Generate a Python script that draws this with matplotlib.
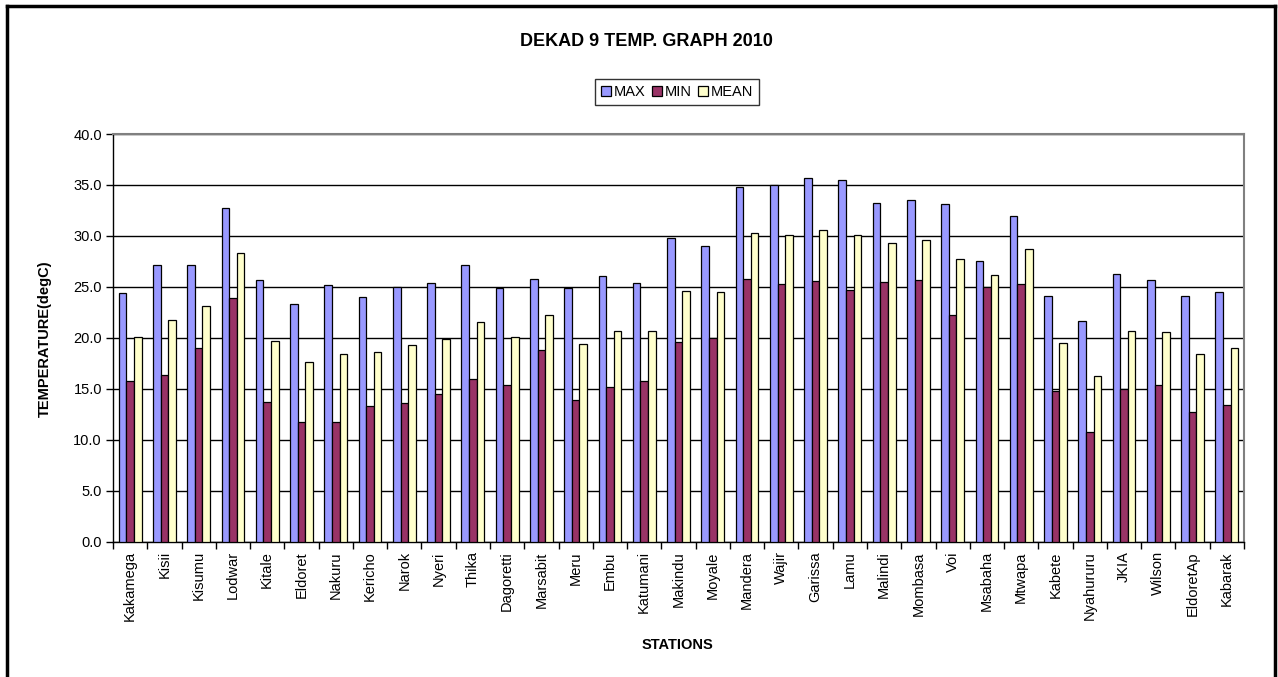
import numpy as np
import matplotlib.pyplot as plt
from matplotlib.lines import Line2D

plt.rcParams['font.family'] = ['Liberation Sans', 'DejaVu Sans']

stations = ['Kakamega', 'Kisii', 'Kisumu', 'Lodwar', 'Kitale', 'Eldoret', 'Nakuru',
            'Kericho', 'Narok', 'Nyeri', 'Thika', 'Dagoretti', 'Marsabit', 'Meru',
            'Embu', 'Katumani', 'Makindu', 'Moyale', 'Mandera', 'Wajir', 'Garissa',
            'Lamu', 'Malindi', 'Mombasa', 'Voi', 'Msabaha', 'Mtwapa', 'Kabete',
            'Nyahururu', 'JKIA', 'Wilson', 'EldoretAp', 'Kabarak']
t_max = [24.4, 27.1, 27.1, 32.7, 25.7, 23.3, 25.2, 24.0, 25.0, 25.4, 27.1, 24.9, 25.8,
         24.9, 26.1, 25.4, 29.8, 29.0, 34.8, 35.0, 35.7, 35.5, 33.2, 33.5, 33.1, 27.5,
         32.0, 24.1, 21.6, 26.3, 25.7, 24.1, 24.5]
t_min = [15.8, 16.3, 19.0, 23.9, 13.7, 11.7, 11.7, 13.3, 13.6, 14.5, 16.0, 15.4, 18.8,
         13.9, 15.2, 15.8, 19.6, 20.0, 25.8, 25.3, 25.6, 24.7, 25.5, 25.7, 22.2, 25.0,
         25.3, 14.8, 10.7, 15.0, 15.4, 12.7, 13.4]
t_mean = [20.1, 21.7, 23.1, 28.3, 19.7, 17.6, 18.4, 18.6, 19.3, 19.9, 21.5, 20.1, 22.2,
          19.4, 20.7, 20.7, 24.6, 24.5, 30.3, 30.1, 30.6, 30.1, 29.3, 29.6, 27.7, 26.2,
          28.7, 19.5, 16.2, 20.7, 20.6, 18.4, 19.0]

W, H = 1278, 677
fig = plt.figure(figsize=(W / 100, H / 100), dpi=100)
ax = fig.add_axes([113 / W, 1 - 541.5 / H, (1244 - 113) / W, (541.5 - 134) / H])

x = np.arange(len(stations))
w = 1 / 4.5
series = [(t_max, '#9999FF', 'MAX'), (t_min, '#993366', 'MIN'), (t_mean, '#FFFFCC', 'MEAN')]
for k, (vals, col, lab) in enumerate(series):
    ax.bar(x + (k - 1) * w, vals, w, color=col, edgecolor='black', linewidth=0.9,
           label=lab, zorder=3)

ax.set_xlim(-0.5, len(stations) - 0.5)
ax.set_ylim(0, 40)
ax.set_yticks(np.arange(0, 41, 5))
ax.set_yticklabels(['%.1f' % v for v in np.arange(0, 41, 5)], fontsize=10.5)
ax.yaxis.grid(True, color='black', linewidth=1, zorder=0)
ax.tick_params(axis='y', length=5, width=1, direction='out', pad=3)

ax.set_xticks(x)
ax.set_xticklabels(stations, rotation=90, fontsize=10.5)
ax.tick_params(axis='x', which='major', length=0, pad=7)
ax.set_xticks(np.arange(-0.5, len(stations), 1), minor=True)
ax.tick_params(axis='x', which='minor', length=5, width=1, direction='out')

for s in ['top', 'right']:
    ax.spines[s].set_color('#808080')
    ax.spines[s].set_linewidth(1.5)
for s in ['left', 'bottom']:
    ax.spines[s].set_color('black')
    ax.spines[s].set_linewidth(1)

fig.text(646 / W, 1 - 42 / H, 'DEKAD 9 TEMP. GRAPH 2010', ha='center', va='center',
         fontsize=13, fontweight='bold')
fig.text(677 / W, 1 - 645 / H, 'STATIONS', ha='center', va='center',
         fontsize=10.5, fontweight='bold')
fig.text(45 / W, 1 - 339 / H, 'TEMPERATURE(degC)', ha='center', va='center',
         rotation=90, fontsize=10.5, fontweight='bold')

leg = fig.legend(loc='center', bbox_to_anchor=(677 / W, 1 - 92 / H), ncol=3,
                 fontsize=10.5, frameon=True, fancybox=False, edgecolor='black',
                 handlelength=0.7, handleheight=0.7, handletextpad=0.2,
                 columnspacing=0.4, borderpad=0.4)
leg.get_frame().set_linewidth(1)

# outer chart frame (no bottom edge)
for xs, ys in [((7, 7), (H, 6)), ((7, 1275), (6, 6)), ((1275, 1275), (6, H))]:
    fig.add_artist(Line2D([v / W for v in xs], [1 - v / H for v in ys],
                          color='black', linewidth=2.5))

fig.savefig('out.png', dpi=100)
